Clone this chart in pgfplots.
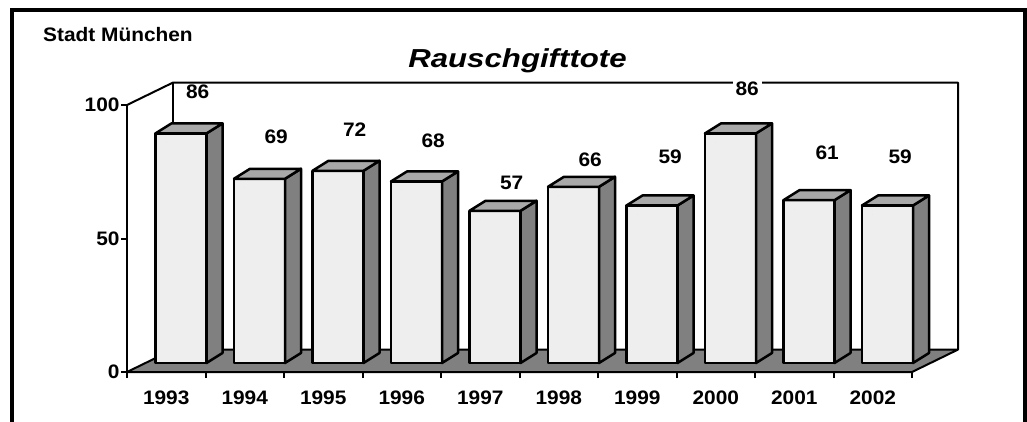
\documentclass[border=0pt]{standalone}
\usepackage{pgfplots}
\pgfplotsset{compat=1.18}
\usepackage{pgfplotstable}
\usepackage{fontspec}
\setmainfont{Liberation Sans}[FakeStretch=1.07]
\newfontfamily\titlefont{Liberation Sans}[FakeStretch=1.2]
\definecolor{frontgray}{HTML}{EEEEEE}
\definecolor{topgray}{HTML}{A8A8A8}
\definecolor{sidegray}{HTML}{808080}
\definecolor{floorgray}{HTML}{808080}

\pgfplotstableread{
x v
0.5 86
1.5 69
2.5 72
3.5 68
4.5 57
5.5 66
6.5 59
7.5 86
8.5 61
9.5 59
}\bars
\pgfplotstableread{
x y lab
0.90 104.9 86
1.90 88.0 69
2.90 90.6 72
3.90 86.5 68
4.90 70.8 57
5.90 79.4 66
6.92 80.5 59
7.90 106.0 86
8.92 82.2 61
9.85 80.5 59
}\labels

\newcommand{\lblfont}{\fontsize{19.5}{23}\selectfont\bfseries}

\begin{document}
\begin{tikzpicture}
\useasboundingbox (0pt,0pt) rectangle (1027pt,421pt);
\draw[line width=4pt] (11.5pt,-3pt) -- (11.5pt,411pt) -- (1024.5pt,411pt) -- (1024.5pt,-3pt);
\begin{axis}[
  at={(127pt,49pt)}, anchor=south west,
  x=78.5pt, y=2.67pt,
  xmin=0, xmax=10, ymin=0, ymax=100,
  clip=false,
  axis lines=left,
  axis line style={line width=2pt,-},
  xtick={0,...,10},
  xticklabels={1993,1994,1995,1996,1997,1998,1999,2000,2001,2002},
  x tick label as interval,
  ytick={0,50,100},
  yticklabels={0,50,100},
  tick align=outside,
  major tick length=6pt,
  tick style={line width=2pt,black},
  ticklabel style={font=\lblfont},
  xticklabel style={yshift=-9pt},
  yticklabel style={xshift=2pt},
]
\filldraw[fill=floorgray, draw=black, line width=2pt, line join=round]
  (axis cs:0,0) -- (axis cs:10,0) -- (axis cs:10.586,8.4) -- (axis cs:0.586,8.4) -- cycle;
\draw[line width=2pt, line join=round] (axis cs:0,100) -- (axis cs:0.586,108.4) -- (axis cs:10.586,108.4) -- (axis cs:10.586,8.4);
\draw[line width=2pt] (axis cs:0.586,108.4) -- (axis cs:0.586,8.4);

\addplot[scatter, only marks, mark=*, mark size=0pt, mark options={draw=none,fill=none},
  visualization depends on={\thisrow{v} \as \barval},
  scatter/@pre marker code/.code={%
    \pgfmathsetmacro\ya{9-\barval*2.67}%
    \pgfmathsetmacro\yb{19-\barval*2.67}%
    \filldraw[fill=sidegray, draw=black, line width=2.5pt, line join=round]
      (40.25pt,9pt) -- (56.25pt,19pt) -- (56.25pt,\yb pt) -- (40.25pt,\ya pt) -- cycle;
    \filldraw[fill=topgray, draw=black, line width=2.5pt, line join=round]
      (-10.75pt,9pt) -- (40.25pt,9pt) -- (56.25pt,19pt) -- (5.25pt,19pt) -- cycle;
  },
  scatter/@post marker code/.code={},
] table[x=x,y=v] {\bars};

\addplot[ybar, bar width=51pt, bar shift=0pt, fill=frontgray, draw=black,
  line width=2.5pt, line join=round, xshift=14.75pt, yshift=9pt] table[x=x,y=v] {\bars};

\addplot[draw=none, mark=none, nodes near coords, point meta=explicit symbolic,
  every node near coord/.style={anchor=center, fill=white, inner xsep=3pt, inner ysep=1pt, font=\lblfont, text=black}]
  table[x=x,y=y,meta=lab] {\labels};
\end{axis}
\node[anchor=base west, inner sep=0pt, font=\lblfont] at (43pt,379.3pt) {Stadt München};
\node[anchor=base, fill=white, inner xsep=9pt, inner ysep=2pt, font={\titlefont\fontsize{26}{30}\selectfont\bfseries\itshape}] at (517.5pt,353.7pt) {Rauschgifttote};
\end{tikzpicture}
\end{document}
